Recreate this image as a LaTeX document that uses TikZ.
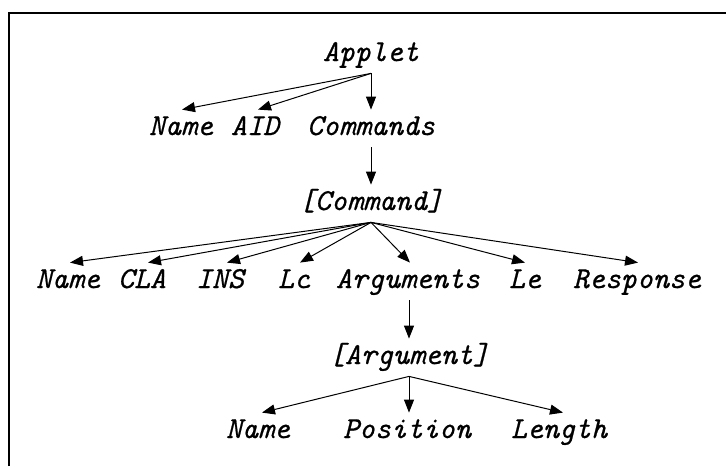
\documentclass[tikz,border=0pt]{standalone}
\usepackage{fontspec}
\newfontfamily\lblfont{Latin Modern Mono}[FakeBold=0.7]
\usetikzlibrary{arrows.meta}
\begin{document}
\begin{tikzpicture}[x=0.5pt,y=-0.5pt,
  lbl/.style={inner sep=0pt, anchor=base, text height=12.5pt, text depth=6pt,
    font=\lblfont\itshape\fontsize{15.24}{18}\selectfont},
  arr/.style={-{Triangle[length=6.5pt,width=5pt]}, line width=0.5pt},
  frameline/.style={line width=1pt}]
\useasboundingbox (0,0) rectangle (726,466);
\coordinate (fbl) at (8.5,466);
\coordinate (ftl) at (8.5,12.5);
\coordinate (ftr) at (726,12.5);
\draw[frameline] (fbl) -- (ftl) -- (ftr);

% row 1
\node[lbl] (applet) at (371,61) {Applet};
% row 2
\node[lbl] (nameA) at (181,135) {Name};
\node[lbl] (aid) at (255,135) {AID};
\node[lbl] (commands) at (371,135) {Commands};
% row 3
\node[lbl] (command) at (371,210) {[Command]};
% row 4
\node[lbl] (nameC) at (68,288) {Name};
\node[lbl] (cla) at (142,288) {CLA};
\node[lbl] (ins) at (220,288) {INS};
\node[lbl] (lc) at (294,288) {Lc};
\node[lbl] (args) at (408,288) {Arguments};
\node[lbl] (le) at (525,288) {Le};
\node[lbl] (resp) at (637,288) {Response};
% row 5
\node[lbl] (argument) at (409,364) {[Argument]};
% row 6
\node[lbl] (nameG) at (258,438) {Name};
\node[lbl] (pos) at (407,438) {Position};
\node[lbl] (len) at (559,438) {Length};

\draw[arr] (applet.south) -- ([xshift=0.5pt]nameA.north);
\draw[arr] (applet.south) -- ([xshift=1.5pt]aid.north);
\draw[arr] (applet.south) -- (commands.north);

\draw[arr] (commands.south) -- (command.north);

\draw[arr] (command.south) -- ([xshift=1pt]nameC.north);
\draw[arr] (command.south) -- ([xshift=3pt]cla.north);
\draw[arr] (command.south) -- ([xshift=3.5pt]ins.north);
\draw[arr] (command.south) -- ([xshift=3pt]lc.north);
\draw[arr] (command.south) -- ([xshift=1pt]args.north);
\draw[arr] (command.south) -- (le.north);
\draw[arr] (command.south) -- ([xshift=0.5pt]resp.north);

\draw[arr] ([xshift=0.5pt]args.south) -- (argument.north);

\draw[arr] (argument.south) -- ([xshift=2pt]nameG.north);
\draw[arr] (argument.south) -- ([xshift=1pt]pos.north);
\draw[arr] (argument.south) -- ([xshift=2pt]len.north);
\end{tikzpicture}
\end{document}
